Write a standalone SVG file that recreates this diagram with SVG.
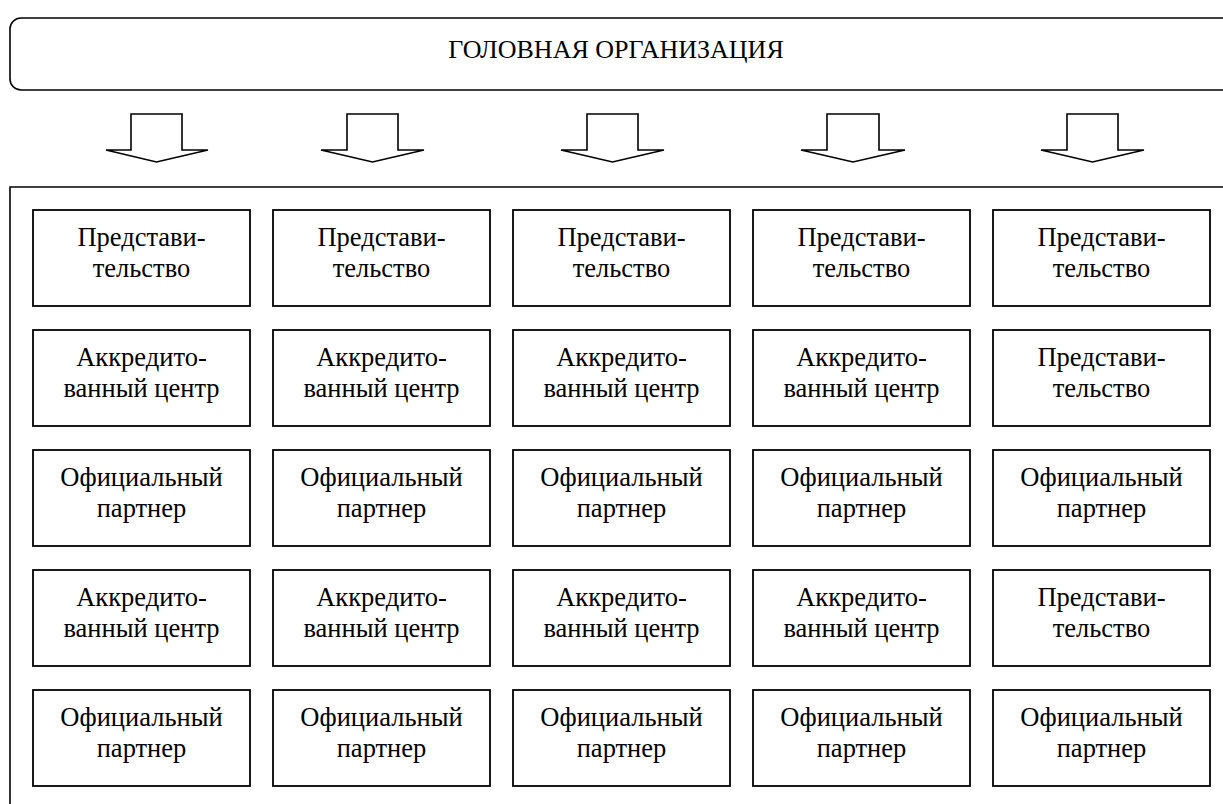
<svg xmlns="http://www.w3.org/2000/svg" width="1223" height="804" viewBox="0 0 1223 804">
<style>
.ln{fill:none;stroke:#000;stroke-width:1.6}
.bx{fill:#fff;stroke:#000;stroke-width:1.8}
.ar{fill:#fff;stroke:#000;stroke-width:1.6;stroke-linejoin:miter}
text{font-family:"Liberation Serif","Times New Roman",serif;font-size:26.5px;fill:#000;text-anchor:middle}
.t{font-size:26px}
</style>
<rect width="1223" height="804" fill="#fff"/>
<g id="head">
<rect class="ln" x="10" y="18" width="1240" height="72" rx="11" ry="11"/>
<text class="t" x="616" y="58">ГОЛОВНАЯ ОРГАНИЗАЦИЯ</text>
</g>
<g id="connectors">
<path class="ar" d="M131,114 H182 V150 H208 L156.5,162 L106,150 H131 Z"/>
<path class="ar" d="M347,114 H398 V150 H424 L372.5,162 L321,150 H347 Z"/>
<path class="ar" d="M587,114 H638 V150 H664 L612.5,162 L561,150 H587 Z"/>
<path class="ar" d="M827,114 H879 V150 H905 L853,162 L801,150 H827 Z"/>
<path class="ar" d="M1067,114 H1118 V150 H1144 L1092.5,162 L1041,150 H1067 Z"/>
</g>
<g id="frame">
<path class="ln" d="M1223,187 H10 V804"/>
</g>
<g id="r1c1"><rect class="bx" x="33" y="210" width="217" height="96"/><text x="141.5" y="246">Представи-</text><text x="141.5" y="277">тельство</text></g>
<g id="r1c2"><rect class="bx" x="273" y="210" width="217" height="96"/><text x="381.5" y="246">Представи-</text><text x="381.5" y="277">тельство</text></g>
<g id="r1c3"><rect class="bx" x="513" y="210" width="217" height="96"/><text x="621.5" y="246">Представи-</text><text x="621.5" y="277">тельство</text></g>
<g id="r1c4"><rect class="bx" x="753" y="210" width="217" height="96"/><text x="861.5" y="246">Представи-</text><text x="861.5" y="277">тельство</text></g>
<g id="r1c5"><rect class="bx" x="993" y="210" width="217" height="96"/><text x="1101.5" y="246">Представи-</text><text x="1101.5" y="277">тельство</text></g>

<g id="r2c1"><rect class="bx" x="33" y="330" width="217" height="96"/><text x="141.5" y="366">Аккредито-</text><text x="141.5" y="397">ванный центр</text></g>
<g id="r2c2"><rect class="bx" x="273" y="330" width="217" height="96"/><text x="381.5" y="366">Аккредито-</text><text x="381.5" y="397">ванный центр</text></g>
<g id="r2c3"><rect class="bx" x="513" y="330" width="217" height="96"/><text x="621.5" y="366">Аккредито-</text><text x="621.5" y="397">ванный центр</text></g>
<g id="r2c4"><rect class="bx" x="753" y="330" width="217" height="96"/><text x="861.5" y="366">Аккредито-</text><text x="861.5" y="397">ванный центр</text></g>
<g id="r2c5"><rect class="bx" x="993" y="330" width="217" height="96"/><text x="1101.5" y="366">Представи-</text><text x="1101.5" y="397">тельство</text></g>

<g id="r3c1"><rect class="bx" x="33" y="450" width="217" height="96"/><text x="141.5" y="486">Официальный</text><text x="141.5" y="517">партнер</text></g>
<g id="r3c2"><rect class="bx" x="273" y="450" width="217" height="96"/><text x="381.5" y="486">Официальный</text><text x="381.5" y="517">партнер</text></g>
<g id="r3c3"><rect class="bx" x="513" y="450" width="217" height="96"/><text x="621.5" y="486">Официальный</text><text x="621.5" y="517">партнер</text></g>
<g id="r3c4"><rect class="bx" x="753" y="450" width="217" height="96"/><text x="861.5" y="486">Официальный</text><text x="861.5" y="517">партнер</text></g>
<g id="r3c5"><rect class="bx" x="993" y="450" width="217" height="96"/><text x="1101.5" y="486">Официальный</text><text x="1101.5" y="517">партнер</text></g>

<g id="r4c1"><rect class="bx" x="33" y="570" width="217" height="96"/><text x="141.5" y="606">Аккредито-</text><text x="141.5" y="637">ванный центр</text></g>
<g id="r4c2"><rect class="bx" x="273" y="570" width="217" height="96"/><text x="381.5" y="606">Аккредито-</text><text x="381.5" y="637">ванный центр</text></g>
<g id="r4c3"><rect class="bx" x="513" y="570" width="217" height="96"/><text x="621.5" y="606">Аккредито-</text><text x="621.5" y="637">ванный центр</text></g>
<g id="r4c4"><rect class="bx" x="753" y="570" width="217" height="96"/><text x="861.5" y="606">Аккредито-</text><text x="861.5" y="637">ванный центр</text></g>
<g id="r4c5"><rect class="bx" x="993" y="570" width="217" height="96"/><text x="1101.5" y="606">Представи-</text><text x="1101.5" y="637">тельство</text></g>

<g id="r5c1"><rect class="bx" x="33" y="690" width="217" height="96"/><text x="141.5" y="726">Официальный</text><text x="141.5" y="757">партнер</text></g>
<g id="r5c2"><rect class="bx" x="273" y="690" width="217" height="96"/><text x="381.5" y="726">Официальный</text><text x="381.5" y="757">партнер</text></g>
<g id="r5c3"><rect class="bx" x="513" y="690" width="217" height="96"/><text x="621.5" y="726">Официальный</text><text x="621.5" y="757">партнер</text></g>
<g id="r5c4"><rect class="bx" x="753" y="690" width="217" height="96"/><text x="861.5" y="726">Официальный</text><text x="861.5" y="757">партнер</text></g>
<g id="r5c5"><rect class="bx" x="993" y="690" width="217" height="96"/><text x="1101.5" y="726">Официальный</text><text x="1101.5" y="757">партнер</text></g>
</svg>
